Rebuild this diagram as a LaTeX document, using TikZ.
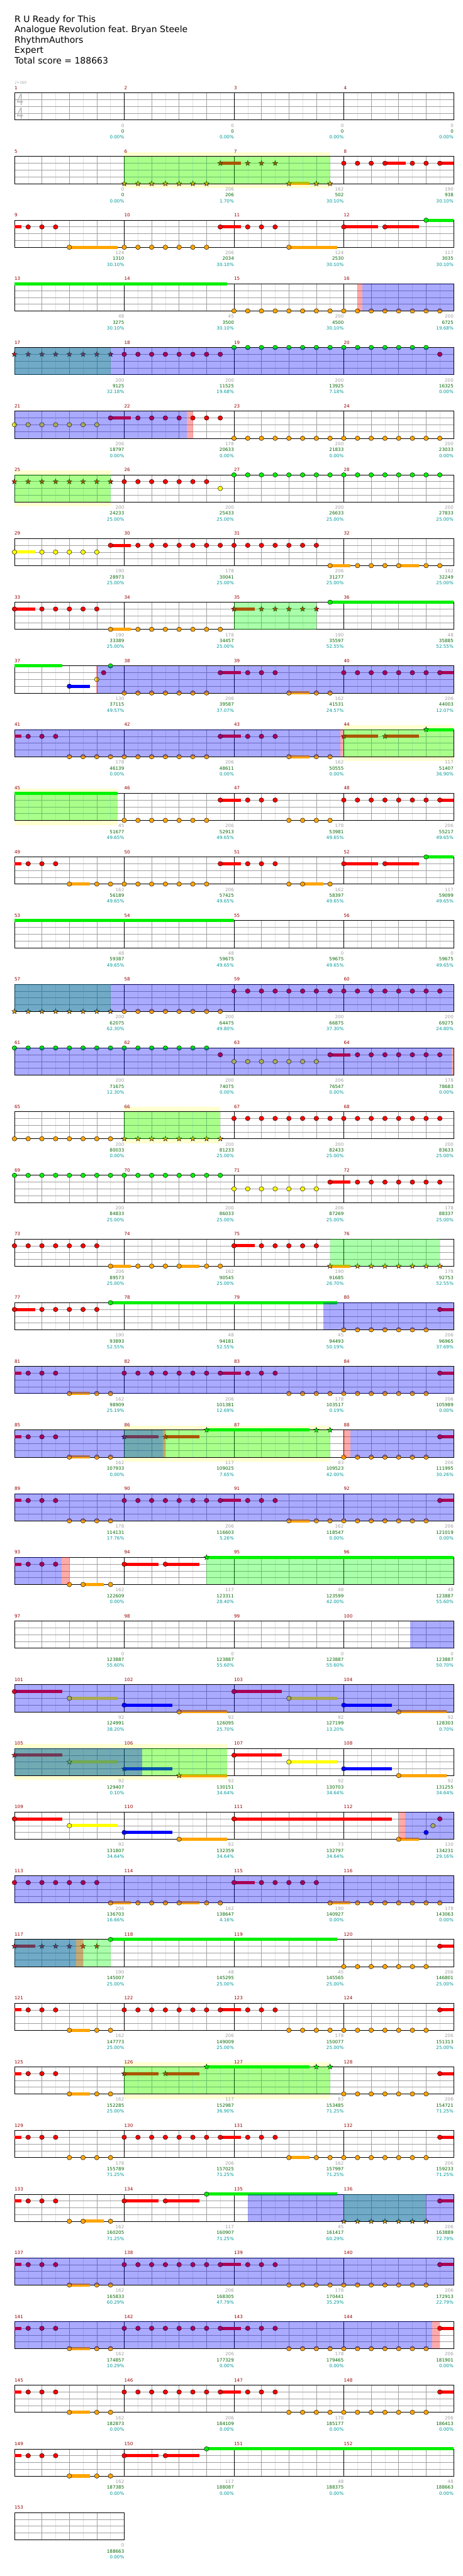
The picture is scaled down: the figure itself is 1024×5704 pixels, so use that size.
\documentclass[tikz,border=0pt]{standalone}
\usepackage{fontspec}
\setmainfont{DejaVu Sans}
\usetikzlibrary{calc}
\definecolor{lane0}{RGB}{0,240,0}
\definecolor{lane1}{RGB}{255,0,0}
\definecolor{lane2}{RGB}{255,255,0}
\definecolor{lane3}{RGB}{0,0,255}
\definecolor{lane4}{RGB}{255,165,0}
\definecolor{barred}{RGB}{153,0,0}
\definecolor{ptgray}{RGB}{160,160,160}
\definecolor{ptgreen}{RGB}{0,102,0}
\definecolor{ptteal}{RGB}{0,153,153}
\definecolor{zoneyellow}{RGB}{255,255,208}
\definecolor{gridgray}{RGB}{160,160,160}
\definecolor{gridlight}{RGB}{226,226,226}

\pgfdeclarelayer{zone}
\pgfdeclarelayer{grid}
\pgfdeclarelayer{tails}
\pgfdeclarelayer{ovlG}
\pgfdeclarelayer{ovlB}
\pgfdeclarelayer{ovlR}
\pgfsetlayers{zone,grid,tails,main,ovlG,ovlB,ovlR}

\tikzset{
  eighth/.style={draw=gridlight, line width=0.8pt},
  quarter/.style={draw=gridgray, line width=0.8pt},
  laneln/.style={draw=gridgray, line width=1pt},
  barline/.style={draw=black, line width=0.8pt},
  border/.style={draw=black, line width=1.1pt},
  gem/.style={draw=black, line width=0.6pt},
  barno/.style={font=\fontsize{10}{12}\selectfont, text=barred,
                anchor=base west, inner sep=0pt},
  ptsG/.style={font=\fontsize{10}{12}\selectfont, text=ptgray,
               anchor=base east, inner sep=0pt},
  ptsT/.style={font=\fontsize{10}{12}\selectfont, text=ptgreen,
               anchor=base east, inner sep=0pt},
  ptsP/.style={font=\fontsize{10}{12}\selectfont, text=ptteal,
               anchor=base east, inner sep=0pt},
  title/.style={font=\fontsize{19.5}{23}\selectfont, anchor=base west,
                inner sep=0pt},
  timesig/.style={font=\fontsize{34}{34}\selectfont, text=gray!55,
                  xscale=0.72, inner sep=0pt},
}

% one row of four bars: row index, number of bars
\newcommand{\staff}[2]{%
  \def\rowidx{#1}%
  \pgfmathsetmacro{\rowT}{205.5+141*#1}%
  \pgfmathsetmacro{\rowX}{32+243*#2}%
  \pgfmathtruncatemacro{\nE}{8*#2-1}%
  \begin{pgfonlayer}{grid}
    \foreach \ee in {1,3,...,\nE} \draw[eighth] ({32+30.375*\ee},\rowT) -- ++(0,60);
    \foreach \ee in {2,4,...,\nE} \draw[quarter] ({32+30.375*\ee},\rowT) -- ++(0,60);
    \foreach \ly in {15,30,45} \draw[laneln] (32,{\rowT+\ly}) -- (\rowX,{\rowT+\ly});
    \ifnum#2>1
      \foreach \bc in {2,...,#2} \draw[barline] ({32+243*(\bc-1)},\rowT) -- ++(0,60);
    \fi
    \draw[border] (32,\rowT) rectangle (\rowX,{\rowT+60});
  \end{pgfonlayer}
  \foreach \bc in {1,...,#2}{%
    \pgfmathtruncatemacro{\mm}{4*#1+\bc}%
    \node[barno] (bar\mm) at ({32+243*(\bc-1)},{\rowT-7.5}) {\mm};}%
}
% scores under the bars
\newcommand{\pts}[1]{%
  \foreach \gp/\tp/\pc [count=\bc] in {#1}{%
    \pgfmathtruncatemacro{\mm}{4*\rowidx+\bc}%
    \node[ptsG] (pts\mm) at ({32+243*\bc},{\rowT+76}) {\gp};
    \node[ptsT] (tot\mm) at ({32+243*\bc},{\rowT+89}) {\tp};
    \node[ptsP] (pct\mm) at ({32+243*\bc},{\rowT+102}) {\pc\%};}%
}
% notes: position in eighths from row start, lane 0..4
\newcommand{\gem}[2]{\filldraw[gem, fill=lane#2]
  ({32+30.375*(#1)},{\rowT+15*(#2)}) ellipse [x radius=5.2pt, y radius=5pt];}
\newcommand{\gems}[3]{\foreach \qq in {#1,...,#2}{\gem{\qq}{#3}}}
\def\starpath{(270:6)--(306:2.5)--(342:6)--(18:2.5)--(54:6)--(90:2.5)
  --(126:6)--(162:2.5)--(198:6)--(234:2.5)--cycle}
\newcommand{\spgem}[2]{\filldraw[gem, fill=lane#2,
  shift={({32+30.375*(#1)},{\rowT+15*(#2)})}] \starpath;}
\newcommand{\spgems}[3]{\foreach \qq in {#1,...,#2}{\spgem{\qq}{#3}}}
\newcommand{\tail}[3]{\begin{pgfonlayer}{tails}\fill[lane#3]
  ({32+30.375*(#1)},{\rowT+15*(#3)-3.5}) rectangle
  ({32+30.375*(#2)},{\rowT+15*(#3)+3.5});\end{pgfonlayer}}
\newcommand{\ladder}[1]{\tail{#1}{#1+3.5}{1}\gem{#1}{1}\tail{#1+4}{#1+7.5}{2}\gem{#1+4}{2}%
  \tail{#1+8}{#1+11.5}{3}\gem{#1+8}{3}\tail{#1+12}{#1+15.5}{4}\gem{#1+12}{4}}
\newcommand{\spladder}[1]{\tail{#1}{#1+3.5}{1}\spgem{#1}{1}\tail{#1+4}{#1+7.5}{2}\spgem{#1+4}{2}%
  \tail{#1+8}{#1+11.5}{3}\spgem{#1+8}{3}\tail{#1+12}{#1+15.5}{4}\spgem{#1+12}{4}}
% the common riff: red/orange pattern across four bars
\newcommand{\riffA}{\tail{0}{0.5}{1} \gems{1}{3}{1}
  \tail{4}{5.5}{4} \gem{4}{4} \gems{6}{7}{4}
  \gems{8}{15}{1} \tail{15}{16.5}{1} \gems{17}{19}{1}
  \gems{20}{30}{4} \tail{31}{32}{1} \gem{31}{1}}
% shaded spans
\newcommand{\spzone}[2]{\begin{pgfonlayer}{zone}\fill[zoneyellow]
  ({32+30.375*(#1)},{\rowT-10}) rectangle ({32+30.375*(#2)},{\rowT+70});\end{pgfonlayer}}
\newcommand{\phrase}[2]{\begin{pgfonlayer}{ovlG}\fill[green, fill opacity=0.333]
  ({32+30.375*(#1)},\rowT) rectangle ({32+30.375*(#2)},{\rowT+60});\end{pgfonlayer}}
\newcommand{\odrive}[2]{\begin{pgfonlayer}{ovlB}\fill[blue, fill opacity=0.333]
  ({32+30.375*(#1)},\rowT) rectangle ({32+30.375*(#2)},{\rowT+60});\end{pgfonlayer}}
\newcommand{\squeeze}[2]{\begin{pgfonlayer}{ovlR}\fill[red, fill opacity=0.333]
  ({32+30.375*(#1)},\rowT) rectangle ({32+30.375*(#2)},{\rowT+60});\end{pgfonlayer}}

\begin{document}
\begin{tikzpicture}[x=1pt, y=-1pt]
  \begin{pgfonlayer}{zone}
    \fill[white] (0,0) rectangle (1024,5704);
  \end{pgfonlayer}
  \useasboundingbox (0,0) rectangle (1024,5704);

  % ── HEADER ──────────────────────────────────────────────
  \node[title] (song)   at (32,49.3)  {R U Ready for This};
  \node[title] (artist) at (32,72.2)  {Analogue Revolution feat.\ Bryan Steele};
  \node[title] (author) at (32,95.1)  {RhythmAuthors};
  \node[title] (diff)   at (32,118)   {Expert};
  \node[title] (score)  at (32,140.9) {Total score = 188663};

  % ── BARS 1-4 ────────────────────────────────────────────
  \staff{0}{4}
  \node[anchor=base west, inner sep=0pt, text=gray!70] (tempo) at (31.5,186)
    {{\fontsize{11}{11}\selectfont ♩}{\fontsize{8}{8}\selectfont =160}};
  \node[timesig] (tsup) at (44.5,221) {4};
  \node[timesig] (tslo) at (44.5,251) {4};
  \pts{0/0/0.00, 0/0/0.00, 0/0/0.00, 0/0/0.00}

  % ── BARS 5-8 ────────────────────────────────────────────
  \staff{1}{4}
  \spzone{8}{23} \phrase{8}{23}
  \tail{15}{16.5}{1} \spgem{15}{1} \spgems{17}{19}{1}
  \spgems{8}{14}{4} \tail{20}{21.5}{4} \spgem{20}{4} \spgems{22}{23}{4}
  \gems{24}{27}{1} \tail{27}{28.5}{1} \gems{29}{31}{1} \tail{31}{32}{1}
  \pts{0/0/0.00, 206/206/1.70, 162/502/30.10, 190/938/30.10}

  % ── BARS 9-12 ───────────────────────────────────────────
  \staff{2}{4}
  \tail{0}{0.5}{1} \gems{1}{3}{1}
  \tail{4}{7.5}{4} \gem{4}{4} \gems{8}{14}{4}
  \tail{15}{16.5}{1} \gem{15}{1} \gems{17}{19}{1}
  \tail{20}{23.5}{4} \gem{20}{4}
  \tail{24}{26.5}{1} \gem{24}{1} \tail{27}{29.5}{1} \gem{27}{1}
  \tail{30}{32}{0} \gem{30}{0}
  \pts{124/1310/30.10, 206/2034/30.10, 124/2530/30.10, 117/3035/30.10}

  % ── BARS 13-16 ──────────────────────────────────────────
  \staff{3}{4}
  \tail{0}{15.5}{0} \gems{16}{31}{4}
  \squeeze{25}{25.35} \odrive{25.35}{32}
  \pts{48/3275/30.10, 45/3500/30.10, 200/4500/30.10, 200/6725/19.68}

  % ── BARS 17-20 ──────────────────────────────────────────
  \staff{4}{4}
  \phrase{0}{7} \odrive{0}{32}
  \spgems{0}{7}{1} \gems{8}{15}{1} \gems{16}{30}{0} \gem{31}{1}
  \pts{200/9125/32.18, 200/11525/19.68, 200/13925/7.18, 200/16325/0.00}

  % ── BARS 21-24 ──────────────────────────────────────────
  \staff{5}{4}
  \odrive{0}{12.56} \squeeze{12.56}{13}
  \gems{0}{6}{2} \tail{7}{8.5}{1} \gem{7}{1} \gems{9}{15}{1} \gems{16}{31}{4}
  \pts{206/18797/0.00, 178/20633/0.00, 200/21833/0.00, 200/23033/0.00}

  % ── BARS 25-28 ──────────────────────────────────────────
  \staff{6}{4}
  \spzone{0}{7} \phrase{0}{7}
  \spgems{0}{7}{1} \gems{8}{14}{1} \gem{15}{2} \gems{16}{31}{0}
  \pts{200/24233/25.00, 200/25433/25.00, 200/26633/25.00, 200/27833/25.00}

  % ── BARS 29-32 ──────────────────────────────────────────
  \staff{7}{4}
  \tail{0}{1.5}{2} \gem{0}{2} \gems{2}{6}{2}
  \tail{7}{8.5}{1} \gem{7}{1} \gems{9}{22}{1}
  \tail{23}{24.5}{4} \gem{23}{4} \gems{25}{27}{4}
  \tail{28}{29.5}{4} \gem{28}{4} \gems{30}{31}{4}
  \pts{190/28973/25.00, 178/30041/25.00, 206/31277/25.00, 162/32249/25.00}

  % ── BARS 33-36 ──────────────────────────────────────────
  \staff{8}{4}
  \tail{0}{1.5}{1} \gem{0}{1} \gems{2}{6}{1}
  \tail{7}{8.5}{4} \gem{7}{4} \gems{9}{15}{4}
  \phrase{16}{22}
  \tail{16}{17.5}{1} \spgem{16}{1} \spgems{18}{22}{1}
  \tail{23}{32}{0} \gem{23}{0}
  \pts{190/33389/25.00, 178/34457/25.00, 190/35597/52.55, 48/35885/52.55}

  % ── BARS 37-40 ──────────────────────────────────────────
  \staff{9}{4}
  \tail{0}{3.5}{0} \tail{4}{5.5}{3} \gem{4}{3}
  \gem{6}{2} \gem{6.5}{1} \gem{7}{0}
  \odrive{6}{32} \squeeze{5.97}{6.04}
  \gems{8}{14}{4}
  \tail{15}{16.5}{1} \gem{15}{1} \gems{17}{19}{1}
  \tail{20}{21.5}{4} \gem{20}{4} \gems{22}{23}{4}
  \gems{24}{31}{1} \tail{31}{32}{1}
  \pts{130/37115/49.57, 206/39587/37.07, 162/41531/24.57, 206/44003/12.07}

  % ── BARS 41-44 ──────────────────────────────────────────
  \staff{10}{4}
  \odrive{0}{23.73} \squeeze{23.73}{24}
  \spzone{24}{32} \phrase{24}{32}
  \tail{0}{0.5}{1} \gems{1}{3}{1} \gems{4}{14}{4}
  \tail{15}{16.5}{1} \gem{15}{1} \gems{17}{19}{1}
  \tail{20}{21.5}{4} \gem{20}{4} \gems{22}{23}{4}
  \tail{24}{26.5}{1} \spgem{24}{1} \tail{27}{29.5}{1} \spgem{27}{1}
  \tail{30}{32}{0} \spgem{30}{0}
  \pts{178/46139/0.00, 206/48611/0.00, 162/50555/0.00, 117/51407/36.90}

  % ── BARS 45-48 ──────────────────────────────────────────
  \staff{11}{4}
  \spzone{0}{7.5} \phrase{0}{7.5}
  \tail{0}{7.5}{0} \gems{8}{14}{4}
  \tail{15}{16.5}{1} \gem{15}{1} \gems{17}{19}{1}
  \gems{20}{23}{4} \gems{24}{31}{1} \tail{31}{32}{1}
  \pts{45/51677/49.65, 206/52913/49.65, 178/53981/49.65, 206/55217/49.65}

  % ── BARS 49-52 ──────────────────────────────────────────
  \staff{12}{4}
  \tail{0}{0.5}{1} \gems{1}{3}{1}
  \tail{4}{5.5}{4} \gem{4}{4} \gems{6}{14}{4}
  \tail{15}{16.5}{1} \gem{15}{1} \gems{17}{19}{1}
  \gem{20}{4} \tail{21}{22.5}{4} \gem{21}{4} \gem{23}{4}
  \tail{24}{26.5}{1} \gem{24}{1} \tail{27}{29.5}{1} \gem{27}{1}
  \tail{30}{32}{0} \gem{30}{0}
  \pts{162/56189/49.65, 206/57425/49.65, 162/58397/49.65, 117/59099/49.65}

  % ── BARS 53-56 ──────────────────────────────────────────
  \staff{13}{4}
  \tail{0}{16}{0}
  \pts{48/59387/49.65, 48/59675/49.65, 0/59675/49.65, 0/59675/49.65}

  % ── BARS 57-60 ──────────────────────────────────────────
  \staff{14}{4}
  \phrase{0}{7} \odrive{0}{32}
  \spgems{0}{7}{4} \gems{8}{15}{4} \gems{16}{31}{1}
  \pts{200/62075/62.30, 200/64475/49.80, 200/66875/37.30, 200/69275/24.80}

  % ── BARS 61-64 ──────────────────────────────────────────
  \staff{15}{4}
  \odrive{0}{31.87} \squeeze{31.87}{32}
  \gems{0}{14}{0} \gem{15}{1} \gems{16}{22}{2}
  \tail{23}{24.5}{1} \gem{23}{1} \gems{25}{31}{1}
  \pts{200/71675/12.30, 200/74075/0.00, 206/76547/0.00, 178/78683/0.00}

  % ── BARS 65-68 ──────────────────────────────────────────
  \staff{16}{4}
  \gems{0}{7}{4}
  \spzone{8}{15} \phrase{8}{15}
  \spgems{8}{15}{4} \gems{16}{31}{1}
  \pts{200/80033/0.00, 200/81233/25.00, 200/82433/25.00, 200/83633/25.00}

  % ── BARS 69-72 ──────────────────────────────────────────
  \staff{17}{4}
  \gems{0}{15}{0} \gems{16}{22}{2}
  \tail{23}{24.5}{1} \gem{23}{1} \gems{25}{31}{1}
  \pts{200/84833/25.00, 200/86033/25.00, 206/87269/25.00, 178/88337/25.00}

  % ── BARS 73-76 ──────────────────────────────────────────
  \staff{18}{4}
  \gems{0}{6}{1}
  \tail{7}{8.5}{4} \gem{7}{4} \gems{9}{11}{4} \tail{12}{13.5}{4} \gem{12}{4} \gems{14}{15}{4}
  \tail{16}{17.5}{1} \gem{16}{1} \gems{18}{22}{1}
  \phrase{23}{31}
  \tail{23}{24.5}{4} \spgem{23}{4} \spgems{25}{31}{4}
  \pts{206/89573/25.00, 162/90545/25.00, 190/91685/26.70, 178/92753/52.55}

  % ── BARS 77-80 ──────────────────────────────────────────
  \staff{19}{4}
  \tail{0}{1.5}{1} \gem{0}{1} \gems{2}{6}{1}
  \tail{7}{23.5}{0} \gem{7}{0}
  \odrive{22.5}{32}
  \gems{24}{30}{4} \tail{31}{32}{1} \gem{31}{1}
  \pts{190/93893/52.55, 48/94181/52.55, 45/94493/50.19, 206/96965/37.69}

  % ── BARS 81-84 ──────────────────────────────────────────
  \staff{20}{4}
  \odrive{0}{32}
  \riffA
  \pts{162/98909/25.19, 206/101381/12.69, 178/103517/0.19, 206/105989/0.00}

  % ── BARS 85-88 ──────────────────────────────────────────
  \staff{21}{4}
  \spzone{8}{23} \phrase{8}{23}
  \odrive{0}{10.83} \squeeze{10.83}{11}
  \squeeze{24}{24.5} \odrive{24.5}{32}
  \tail{0}{0.5}{1} \gems{1}{3}{1}
  \tail{4}{5.5}{4} \gem{4}{4} \gems{6}{7}{4}
  \tail{8}{10.5}{1} \spgem{8}{1} \tail{11}{13.5}{1} \spgem{11}{1}
  \tail{14}{21.5}{0} \spgem{14}{0} \spgems{22}{23}{0}
  \gems{24}{30}{4} \tail{31}{32}{1} \gem{31}{1}
  \pts{162/107933/0.00, 117/109025/7.65, 83/109523/42.00, 206/111995/30.26}

  % ── BARS 89-92 ──────────────────────────────────────────
  \staff{22}{4}
  \odrive{0}{32}
  \tail{0}{0.5}{1} \gems{1}{3}{1} \gems{4}{7}{4}
  \gems{8}{15}{1} \tail{15}{16.5}{1} \gems{17}{19}{1}
  \tail{20}{21.5}{4} \gem{20}{4} \gems{22}{30}{4}
  \tail{31}{32}{1} \gem{31}{1}
  \pts{178/114131/17.76, 206/116603/5.26, 162/118547/0.00, 206/121019/0.00}

  % ── BARS 93-96 ──────────────────────────────────────────
  \staff{23}{4}
  \odrive{0}{3.42} \squeeze{3.42}{4}
  \tail{0}{0.5}{1} \gems{1}{3}{1}
  \gem{4}{4} \tail{5}{6.5}{4} \gem{5}{4} \gem{7}{4}
  \tail{8}{10.5}{1} \gem{8}{1} \tail{11}{13.5}{1} \gem{11}{1}
  \phrase{14}{32}
  \tail{14}{32}{0} \spgem{14}{0}
  \pts{162/122609/0.00, 117/123311/28.40, 48/123599/42.00, 48/123887/55.60}

  % ── BARS 97-100 ─────────────────────────────────────────
  \staff{24}{4}
  \odrive{28.83}{32}
  \pts{0/123887/55.60, 0/123887/55.60, 0/123887/55.60, 0/123887/50.70}

  % ── BARS 101-104 ────────────────────────────────────────
  \staff{25}{4}
  \odrive{0}{32}
  \ladder{0} \ladder{16}
  \pts{92/124991/38.20, 92/126095/25.70, 92/127199/13.20, 92/128303/0.70}

  % ── BARS 105-108 ────────────────────────────────────────
  \staff{26}{4}
  \spzone{0}{15.5} \phrase{0}{15.5} \odrive{0}{9.3}
  \spladder{0} \ladder{16}
  \pts{92/129407/0.10, 92/130151/34.64, 92/130703/34.64, 92/131255/34.64}

  % ── BARS 109-112 ────────────────────────────────────────
  \staff{27}{4}
  \ladder{0}
  \tail{16}{27.5}{1} \gem{16}{1}
  \squeeze{28}{28.46} \odrive{28.46}{32}
  \tail{28}{29.5}{4} \gem{28}{4} \gem{30}{3} \gem{30.5}{2} \gem{31}{1}
  \pts{92/131807/34.64, 92/132359/34.64, 73/132797/34.64, 130/134231/29.16}

  % ── BARS 113-116 ────────────────────────────────────────
  \staff{28}{4}
  \odrive{0}{32}
  \gems{0}{6}{1}
  \tail{7}{8.5}{4} \gem{7}{4} \gems{9}{11}{4} \tail{12}{13.5}{4} \gem{12}{4} \gems{14}{15}{4}
  \tail{16}{17.5}{1} \gem{16}{1} \gems{18}{22}{1}
  \tail{23}{24.5}{4} \gem{23}{4} \gems{25}{31}{4}
  \pts{206/136703/16.66, 162/138647/4.16, 190/140927/0.00, 178/143063/0.00}

  % ── BARS 117-120 ────────────────────────────────────────
  \staff{29}{4}
  \phrase{0}{7} \odrive{0}{4.48} \squeeze{4.48}{5}
  \tail{0}{1.5}{1} \spgem{0}{1} \spgems{2}{6}{1}
  \tail{7}{23.5}{0} \gem{7}{0}
  \gems{24}{30}{4} \tail{31}{32}{1} \gem{31}{1}
  \pts{190/145007/25.00, 48/145295/25.00, 45/145565/25.00, 206/146801/25.00}

  % ── BARS 121-124 ────────────────────────────────────────
  \staff{30}{4}
  \riffA
  \pts{162/147773/25.00, 206/149009/25.00, 178/150077/25.00, 206/151313/25.00}

  % ── BARS 125-128 ────────────────────────────────────────
  \staff{31}{4}
  \spzone{8}{23} \phrase{8}{23}
  \tail{0}{0.5}{1} \gems{1}{3}{1}
  \tail{4}{5.5}{4} \gem{4}{4} \gems{6}{7}{4}
  \tail{8}{10.5}{1} \spgem{8}{1} \tail{11}{13.5}{1} \spgem{11}{1}
  \tail{14}{21.5}{0} \spgem{14}{0} \spgems{22}{23}{0}
  \gems{24}{30}{4} \tail{31}{32}{1} \gem{31}{1}
  \pts{162/152285/25.00, 117/152987/36.90, 83/153485/71.25, 206/154721/71.25}

  % ── BARS 129-132 ────────────────────────────────────────
  \staff{32}{4}
  \tail{0}{0.5}{1} \gems{1}{3}{1} \gems{4}{7}{4}
  \gems{8}{15}{1} \tail{15}{16.5}{1} \gems{17}{19}{1}
  \tail{20}{21.5}{4} \gem{20}{4} \gems{22}{30}{4}
  \tail{31}{32}{1} \gem{31}{1}
  \pts{178/155789/71.25, 206/157025/71.25, 162/157997/71.25, 206/159233/71.25}

  % ── BARS 133-136 ────────────────────────────────────────
  \staff{33}{4}
  \odrive{17}{32} \phrase{24}{30}
  \tail{0}{0.5}{1} \gems{1}{3}{1}
  \gem{4}{4} \tail{5}{6.5}{4} \gem{5}{4} \gem{7}{4}
  \tail{8}{10.5}{1} \gem{8}{1} \tail{11}{13.5}{1} \gem{11}{1}
  \tail{14}{23.5}{0} \gem{14}{0}
  \spgems{24}{30}{4} \tail{31}{32}{1} \gem{31}{1}
  \pts{162/160205/71.25, 117/160907/71.25, 45/161417/60.29, 206/163889/72.79}

  % ── BARS 137-140 ────────────────────────────────────────
  \staff{34}{4}
  \odrive{0}{32}
  \riffA
  \pts{162/165833/60.29, 206/168305/47.79, 178/170441/35.29, 206/172913/22.79}

  % ── BARS 141-144 ────────────────────────────────────────
  \staff{35}{4}
  \odrive{0}{30.46} \squeeze{30.46}{31}
  \riffA
  \pts{162/174857/10.29, 206/177329/0.00, 178/179465/0.00, 206/181901/0.00}

  % ── BARS 145-148 ────────────────────────────────────────
  \staff{36}{4}
  \riffA
  \pts{162/182873/0.00, 206/184109/0.00, 178/185177/0.00, 206/186413/0.00}

  % ── BARS 149-152 ────────────────────────────────────────
  \staff{37}{4}
  \tail{0}{0.5}{1} \gems{1}{3}{1}
  \tail{4}{5.5}{4} \gem{4}{4} \gems{6}{7}{4}
  \tail{8}{10.5}{1} \gem{8}{1} \tail{11}{13.5}{1} \gem{11}{1}
  \tail{14}{32}{0} \gem{14}{0}
  \pts{162/187385/0.00, 117/188087/0.00, 48/188375/0.00, 48/188663/0.00}

  % ── BAR 153 ─────────────────────────────────────────────
  \staff{38}{1}
  \pts{0/188663/0.00}
\end{tikzpicture}
\end{document}
